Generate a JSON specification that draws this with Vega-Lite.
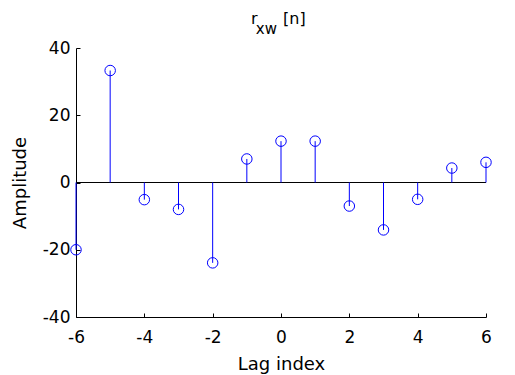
{
  "$schema": "https://vega.github.io/schema/vega-lite/v6.json",
  "width": 410,
  "height": 269,
  "autosize": {"type": "none"},
  "padding": {"left": 76, "top": 48, "right": 29, "bottom": 58},
  "background": "white",
  "title": {
    "text": "r\u00a0\u00a0\u00a0\u00a0\u00a0[n]",
    "subtitle": "\u200b\u00a0xw",
    "font": "DejaVu Sans",
    "subtitleFont": "DejaVu Sans",
    "fontSize": 16,
    "subtitleFontSize": 15,
    "fontWeight": "normal",
    "color": "black",
    "subtitleColor": "black",
    "anchor": "start",
    "frame": "group",
    "dx": 175,
    "subtitlePadding": -5,
    "offset": 2
  },
  "data": {
    "values": [
      {"lag": -6, "r": -20},
      {"lag": -5, "r": 33.3},
      {"lag": -4, "r": -5.1},
      {"lag": -3, "r": -8},
      {"lag": -2, "r": -23.9},
      {"lag": -1, "r": 7},
      {"lag": 0, "r": 12.3},
      {"lag": 1, "r": 12.3},
      {"lag": 2, "r": -7},
      {"lag": 3, "r": -14.1},
      {"lag": 4, "r": -5},
      {"lag": 5, "r": 4.3},
      {"lag": 6, "r": 6}
    ]
  },
  "layer": [
    {
      "data": {"values": [{}]},
      "mark": {"type": "rule", "color": "black", "strokeWidth": 1},
      "encoding": {"y": {"datum": 0, "type": "quantitative"}}
    },
    {
      "mark": {"type": "rule", "color": "#0000ff", "strokeWidth": 1},
      "encoding": {
        "x": {"field": "lag", "type": "quantitative"},
        "y": {"field": "r", "type": "quantitative"},
        "y2": {"datum": 0}
      }
    },
    {
      "mark": {"type": "point", "shape": "circle", "filled": false, "color": "#0000ff", "strokeWidth": 1, "size": 110, "opacity": 1},
      "encoding": {
        "x": {
          "field": "lag",
          "type": "quantitative",
          "scale": {"domain": [-6, 6], "nice": false, "zero": false},
          "axis": {"title": "Lag index", "values": [-6, -4, -2, 0, 2, 4, 6], "labelFlush": false, "labelPadding": 16, "titlePadding": 10}
        },
        "y": {
          "field": "r",
          "type": "quantitative",
          "scale": {"domain": [-40, 40], "nice": false, "zero": false},
          "axis": {"title": "Amplitude", "values": [-40, -20, 0, 20, 40], "labelPadding": 10, "titlePadding": 13}
        }
      }
    }
  ],
  "config": {
    "view": {"stroke": null},
    "axis": {
      "grid": false,
      "domainColor": "black",
      "domainWidth": 1,
      "tickColor": "black",
      "tickWidth": 1,
      "tickSize": -4,
      "labelColor": "black",
      "labelFont": "DejaVu Sans",
      "labelFontSize": 17,
      "labelExpr": "replace(datum.label, '\u2212', '-')",
      "titleColor": "black",
      "titleFont": "DejaVu Sans",
      "titleFontSize": 18,
      "titleFontWeight": "normal"
    }
  }
}
